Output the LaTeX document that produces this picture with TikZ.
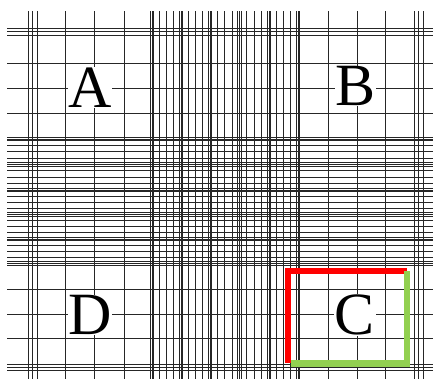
\documentclass[tikz,border=0pt]{standalone}
\usepackage{fontspec}
\setmainfont{Liberation Serif}
\definecolor{cornerred}{HTML}{FF0000}
\definecolor{cornergreen}{HTML}{92D050}

\begin{document}
\begin{tikzpicture}[
	x=1pt, y=-1pt,
	gridline/.style={line width=0.85pt, draw=black!85},
	square/.style={fill=white, inner sep=0.5pt, font=\fontsize{60}{60}\selectfont},
	edge/.style={line width=6.5pt, line join=miter}
]
\useasboundingbox (0,0) rectangle (433,380);

% --- vertical lines ---
\foreach \x in {28,32.5,37,65,94.5,124,328,357,385.5,414.5,418.7,423}
	\draw[gridline] (\x,11) -- (\x,379);
\foreach \x in {152,181,210,239.5,269,298}
	\foreach \d in {-1.8,0,1.8}
		\draw[gridline] ({\x+\d},11) -- ({\x+\d},379);
\foreach \a/\b in {152/181,181/210,210/239.5,239.5/269,269/298}
	\foreach \f in {0.25,0.5,0.75}
		\draw[gridline] ({\a+\f*(\b-\a)},11) -- ({\a+\f*(\b-\a)},379);

% --- horizontal lines ---
\foreach \y in {28,31.5,35,63.3,88.3,113.3,289,314,338.3,364,367,370}
	\draw[gridline] (7,\y) -- (433,\y);
\foreach \y in {139,164.5,190,214.5,239,263.5}
	\foreach \d in {-1.8,0,1.8}
		\draw[gridline] (7,{\y+\d}) -- (433,{\y+\d});
\foreach \a/\b in {139/164.5,164.5/190,190/214.5,214.5/239,239/263.5}
	\foreach \f in {0.25,0.5,0.75}
		\draw[gridline] (7,{\a+\f*(\b-\a)}) -- (433,{\a+\f*(\b-\a)});

% --- corner squares ---
\node[square] (sqA) at (90,87.5) {A};
\node[square] (sqB) at (355.5,86) {B};
\node[square] (sqC) at (355,315) {C};
\node[square] (sqD) at (90,315) {D};

% --- counting border ---
\draw[edge, cornerred] (288,362.7) -- (288,271) -- (407.3,271);
\draw[edge, cornergreen] (407,271) -- (407,363.5) -- (291,363.5);

\end{tikzpicture}
\end{document}
